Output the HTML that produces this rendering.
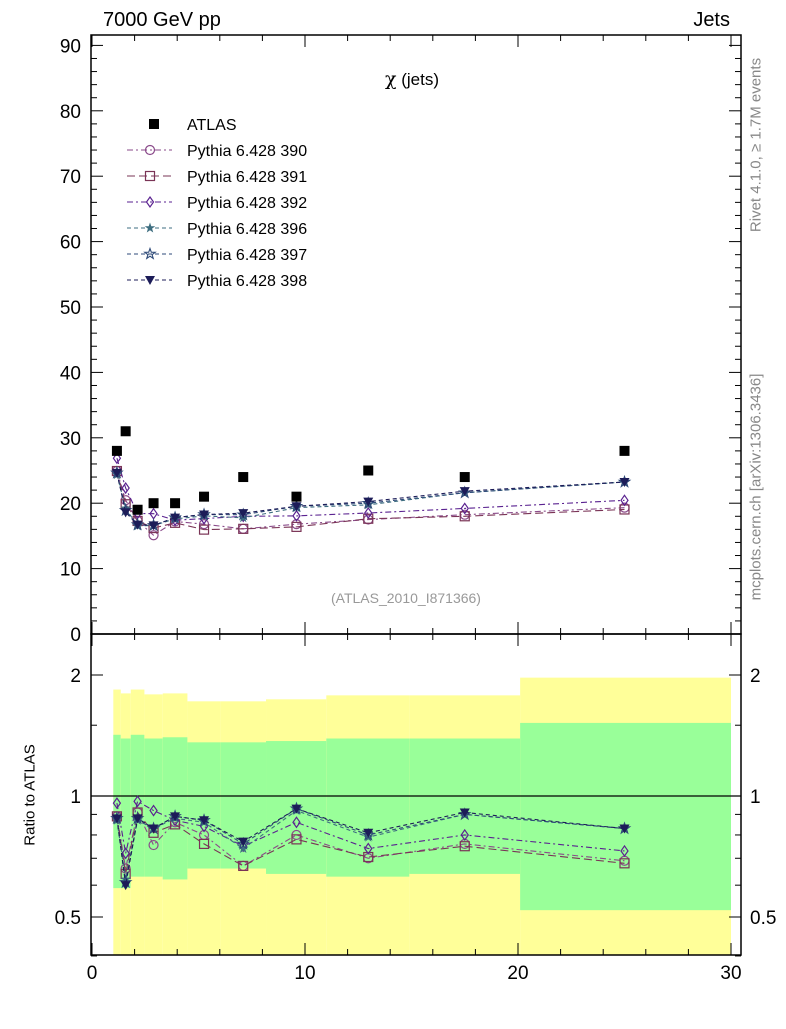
<!DOCTYPE html>
<html><head><meta charset="utf-8"><style>
body{margin:0;background:#fff;}
svg text{font-family:"Liberation Sans",sans-serif;}
</style></head><body>
<svg id="c" width="786" height="1024" xmlns="http://www.w3.org/2000/svg"></svg>
<script>
const edges=[1,1.35,1.82,2.46,3.32,4.48,6.05,8.17,11.0,14.9,20.1,30];
const mids=[1.17,1.58,2.14,2.89,3.9,5.26,7.1,9.6,12.97,17.5,25];
const atlas=[28,31,19,20,20,21,24,21,25,24,28];
const r390=[0.89,0.66,0.91,0.755,0.86,0.80,0.67,0.80,0.70,0.76,0.69];
const r391=[0.89,0.64,0.91,0.81,0.85,0.76,0.67,0.78,0.705,0.75,0.68];
const r392=[0.96,0.72,0.97,0.92,0.87,0.84,0.75,0.86,0.74,0.80,0.73];
const r396=[0.87,0.62,0.87,0.83,0.88,0.86,0.74,0.92,0.79,0.90,0.83];
const r397=[0.88,0.61,0.88,0.83,0.89,0.87,0.76,0.93,0.80,0.90,0.83];
const r398=[0.88,0.60,0.88,0.83,0.89,0.87,0.77,0.93,0.81,0.91,0.83];
const yelTop=[1.84,1.80,1.84,1.79,1.80,1.72,1.72,1.74,1.78,1.78,1.97];
const grnTop=[1.42,1.39,1.42,1.39,1.40,1.36,1.36,1.37,1.39,1.39,1.52];
const grnBot=[0.59,0.59,0.63,0.63,0.62,0.66,0.66,0.64,0.63,0.64,0.52];
const xTicks=[0,10,20,30];
const yTicks=[0,10,20,30,40,50,60,70,80,90];
const rTicks=[0.5,1,2];

const NS="http://www.w3.org/2000/svg";
const svg=document.getElementById('c');
function el(t,a,p){const e=document.createElementNS(NS,t);for(const k in a)e.setAttribute(k,a[k]);(p||svg).appendChild(e);return e;}
const L=91,R=741,T=35,MB=634,RB=955;
const X=v=>92+v*21.3;
const Y=v=>634-v*6.54;
const RY=v=>796-Math.log2(v)*121;

const series=[
 {n:'390',r:r390,c:'#8a4a8a',m:'circle',d:'6,3,2,3'},
 {n:'391',r:r391,c:'#7a3456',m:'square',d:'8,4'},
 {n:'392',r:r392,c:'#5a2290',m:'diamond',d:'6,3,2,3'},
 {n:'396',r:r396,c:'#3e6e80',m:'star',d:'4,3'},
 {n:'397',r:r397,c:'#2e4a78',m:'ostar',d:'4,3'},
 {n:'398',r:r398,c:'#1c1c58',m:'tri',d:'4,3'}];

const bg=el('g',{});
for(let i=0;i<mids.length;i++){
 const x0=X(edges[i]),x1=X(edges[i+1]);
 const y=el('rect',{x:x0,y:RY(yelTop[i]),width:x1-x0,height:RB-RY(yelTop[i]),fill:'#ffff99'},bg);
 
 const g=el('rect',{x:x0,y:RY(grnTop[i]),width:x1-x0,height:RY(grnBot[i])-RY(grnTop[i]),fill:'#99ff99'},bg);
 
}
el('line',{x1:L,x2:R,y1:RY(1),y2:RY(1),stroke:'#000','stroke-width':1.2});

function marker(g,type,x,y,c){
 const s=4.5;
 if(type==='circle')return el('circle',{cx:x,cy:y,r:s,fill:'none',stroke:c,'stroke-width':1.2},g);
 if(type==='square')return el('rect',{x:x-s,y:y-s,width:2*s,height:2*s,fill:'none',stroke:c,'stroke-width':1.2},g);
 if(type==='diamond')return el('polygon',{points:`${x},${y-5} ${x+3.5},${y} ${x},${y+5} ${x-3.5},${y}`,fill:'none',stroke:c,'stroke-width':1.2},g);
 if(type==='tri')return el('polygon',{points:`${x-5},${y-4} ${x+5},${y-4} ${x},${y+5}`,fill:c},g);
 let p='';for(let k=0;k<10;k++){const rr=k%2?2.2:5.5,a=-Math.PI/2+k*Math.PI/5;p+=(x+rr*Math.cos(a))+','+(y+rr*Math.sin(a))+' ';}
 if(type==='star')return el('polygon',{points:p,fill:c},g);
 return el('polygon',{points:p,fill:'none',stroke:c,'stroke-width':1.1},g);
}

series.forEach(s=>{
 const g=el('g',{});
 
 const main=mids.map((m,i)=>X(m)+','+Y(s.r[i]*atlas[i])).join(' ');
 el('polyline',{points:main,fill:'none',stroke:s.c,'stroke-width':1.1,'stroke-dasharray':s.d},g);
 const rat=mids.map((m,i)=>X(m)+','+RY(s.r[i])).join(' ');
 el('polyline',{points:rat,fill:'none',stroke:s.c,'stroke-width':1.1,'stroke-dasharray':s.d},g);
 mids.forEach((m,i)=>{
  const a=marker(g,s.m,X(m),Y(s.r[i]*atlas[i]),s.c);
  const b=marker(g,s.m,X(m),RY(s.r[i]),s.c);
 });
});
const ag=el('g',{});

mids.forEach((m,i)=>{const r=el('rect',{x:X(m)-5,y:Y(atlas[i])-5,width:10,height:10,fill:'#000'},ag);});

el('rect',{x:L,y:T,width:R-L,height:MB-T,fill:'none',stroke:'#000','stroke-width':1.5});
el('rect',{x:L,y:MB,width:R-L,height:RB-MB,fill:'none',stroke:'#000','stroke-width':1.5});
for(let v=0;v<=30;v+=2){const big=v%10===0,x=X(v);
 for(const yb of [MB,RB]){el('line',{x1:x,x2:x,y1:yb,y2:yb-(big?12:6),stroke:'#000'});}
 for(const yt of [T,MB]){el('line',{x1:x,x2:x,y1:yt,y2:yt+(big?12:6),stroke:'#000'});}}
xTicks.forEach(v=>{const t=el('text',{x:X(v),y:979,'font-size':19,'text-anchor':'middle'});t.textContent=v;});
for(let v=0;v<=90;v+=2){const big=v%10===0,y=Y(v);if(y<T)continue;
 el('line',{x1:L,x2:L+(big?12:6),y1:y,y2:y,stroke:'#000'});el('line',{x1:R,x2:R-(big?12:6),y1:y,y2:y,stroke:'#000'});}
yTicks.forEach(v=>{const t=el('text',{x:81,y:Y(v)+7,'font-size':19,'text-anchor':'end'});t.textContent=v;});
[0.4,0.5,0.6,0.7,0.8,0.9,1,1.5,2].forEach(v=>{const big=rTicks.includes(v),y=RY(v);
 el('line',{x1:L,x2:L+(big?12:6),y1:y,y2:y,stroke:'#000'});el('line',{x1:R,x2:R-(big?12:6),y1:y,y2:y,stroke:'#000'});});
rTicks.forEach(v=>{[[81,'end'],[750,'start']].forEach(([x,a])=>{const t=el('text',{x:x,y:RY(v)+7,'font-size':19,'text-anchor':a});t.textContent=v;});});

const lg=el('g',{});
el('rect',{x:149,y:119,width:10,height:10,fill:'#000'},lg);
let t=el('text',{x:187,y:130,'font-size':16},lg);t.textContent='ATLAS';
series.forEach((s,i)=>{const y=150+26*i;
 el('line',{x1:127,x2:172,y1:y,y2:y,stroke:s.c,'stroke-dasharray':s.d},lg);
 marker(lg,s.m,150,y,s.c);
 const tt=el('text',{x:187,y:y+6,'font-size':16},lg);tt.textContent='Pythia 6.428 '+s.n;});
</script>
<div style="position:absolute;left:0;top:0;width:786px;height:1024px;font-family:'Liberation Sans',sans-serif;pointer-events:none">
<div style="position:absolute;left:103px;top:9px;font-size:20px">7000 GeV pp</div>
<div style="position:absolute;right:56px;top:9px;font-size:20px">Jets</div>
<div style="position:absolute;left:385px;top:68px;font-size:17px"><span style="font-family:'DejaVu Serif',serif;font-size:19px">χ</span> (jets)</div>
<div style="position:absolute;left:331px;top:590px;font-size:14px;color:#999">(ATLAS_2010_I871366)</div>
<div style="position:absolute;left:30px;top:795px;font-size:15px;transform:translate(-50%,-50%) rotate(-90deg);white-space:nowrap">Ratio to ATLAS</div>
<div style="position:absolute;left:756px;top:145px;font-size:15px;color:#888;transform:translate(-50%,-50%) rotate(-90deg);white-space:nowrap">Rivet 4.1.0, ≥ 1.7M events</div>
<div style="position:absolute;left:756px;top:487px;font-size:15px;color:#888;transform:translate(-50%,-50%) rotate(-90deg);white-space:nowrap">mcplots.cern.ch [arXiv:1306.3436]</div>
</div>
</body></html>
